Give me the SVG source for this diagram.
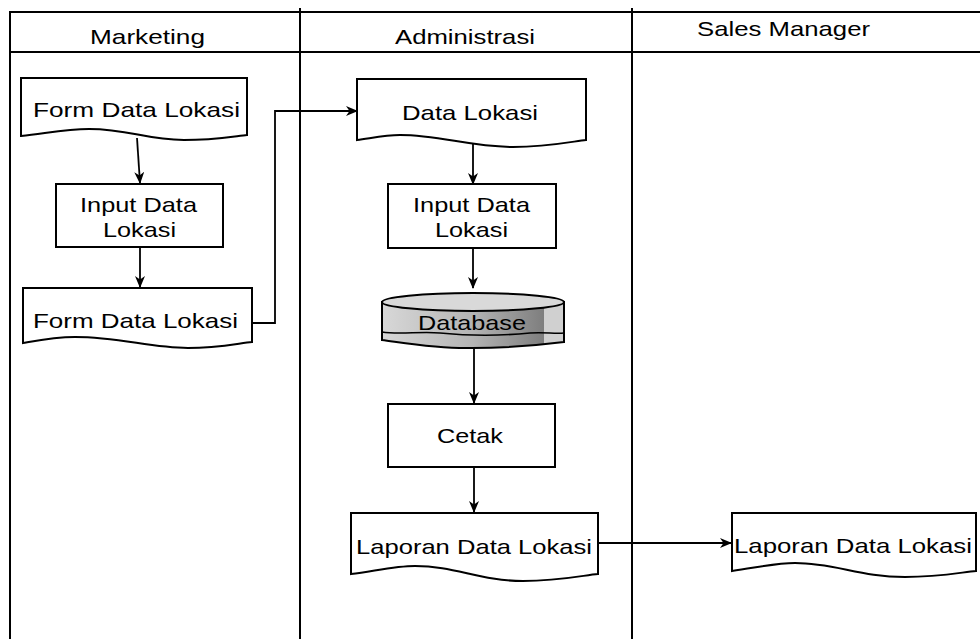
<svg xmlns="http://www.w3.org/2000/svg" width="980" height="639" viewBox="0 0 980 639">
<style>
.lane{stroke:#000;stroke-width:2;fill:none}
.shape{fill:#fff;stroke:#000;stroke-width:2}
.conn{fill:none;stroke:#000;stroke-width:1.8}
.t{font-family:"Liberation Sans",Arial,sans-serif;font-size:21px;fill:#000}
</style>
<defs>
<marker id="arr" markerUnits="userSpaceOnUse" viewBox="0 0 12 10" refX="11" refY="5" markerWidth="12" markerHeight="10" orient="auto">
<path d="M0,0 L12,5 L0,10 L3.5,5 Z" fill="#000"/>
</marker>
<linearGradient id="dbg" x1="0" y1="0" x2="1" y2="0">
<stop offset="0" stop-color="#d8d8d8"/>
<stop offset="0.5" stop-color="#b4b4b4"/>
<stop offset="0.89" stop-color="#7e7e7e"/>
<stop offset="0.89" stop-color="#d0d0d0"/>
<stop offset="1" stop-color="#d0d0d0"/>
</linearGradient>
</defs>
<rect width="980" height="639" fill="#fff"/>
<g id="lanes">
<line class="lane" x1="10" y1="12" x2="980" y2="12"/>
<line class="lane" x1="10" y1="52" x2="980" y2="52"/>
<line class="lane" x1="10" y1="11" x2="10" y2="639"/>
<line class="lane" x1="300" y1="8" x2="300" y2="639"/>
<line class="lane" x1="632" y1="8" x2="632" y2="639"/>
<text class="t" x="90" y="44" textLength="115" lengthAdjust="spacingAndGlyphs">Marketing</text>
<text class="t" x="395" y="44" textLength="140" lengthAdjust="spacingAndGlyphs">Administrasi</text>
<text class="t" x="697" y="36" textLength="173" lengthAdjust="spacingAndGlyphs">Sales Manager</text>
</g>
<g id="connectors">
<line class="conn" x1="137" y1="138" x2="140" y2="183" marker-end="url(#arr)"/>
<line class="conn" x1="140" y1="247" x2="140" y2="287" marker-end="url(#arr)"/>
<polyline class="conn" points="252,323 275,323 275,111 357,111" marker-end="url(#arr)"/>
<line class="conn" x1="473" y1="144" x2="473" y2="184" marker-end="url(#arr)"/>
<line class="conn" x1="473" y1="248" x2="473" y2="288" marker-end="url(#arr)"/>
<line class="conn" x1="474" y1="348" x2="474" y2="403" marker-end="url(#arr)"/>
<line class="conn" x1="474" y1="467" x2="474" y2="512" marker-end="url(#arr)"/>
<line class="conn" x1="598" y1="543" x2="731" y2="543" marker-end="url(#arr)"/>
</g>
<g id="doc-form1">
<path class="shape" d="M21,78 H247 V135 C236,136 213,140 184,140 C145,140 130,129 89,129 C66,129 48,133 21,136 Z"/>
<text class="t" x="33" y="117" textLength="207" lengthAdjust="spacingAndGlyphs">Form Data Lokasi</text>
</g>
<g id="proc-input1">
<rect class="shape" x="56" y="184" width="167" height="63"/>
<text class="t" x="80" y="212" textLength="117" lengthAdjust="spacingAndGlyphs">Input Data</text>
<text class="t" x="103" y="237" textLength="73" lengthAdjust="spacingAndGlyphs">Lokasi</text>
</g>
<g id="doc-form2">
<path class="shape" d="M23,288 H252 V342 C240,343 218,348 188,348 C150,348 120,337 75,337 C55,337 40,340 23,343 Z"/>
<text class="t" x="33" y="328" textLength="205" lengthAdjust="spacingAndGlyphs">Form Data Lokasi</text>
</g>
<g id="doc-data">
<path class="shape" d="M357,79 H586 V140 C575,141 548,147 513,147 C470,147 440,135 400,135 C385,135 372,138 357,140 Z"/>
<text class="t" x="402" y="120" textLength="136" lengthAdjust="spacingAndGlyphs">Data Lokasi</text>
</g>
<g id="proc-input2">
<rect class="shape" x="388" y="184" width="168" height="64"/>
<text class="t" x="413" y="212" textLength="117" lengthAdjust="spacingAndGlyphs">Input Data</text>
<text class="t" x="435" y="237" textLength="73" lengthAdjust="spacingAndGlyphs">Lokasi</text>
</g>
<g id="db">
<path d="M382,302 V340 C405,343 440,349 472,348 C505,348 540,345 564,342 V302 Z" fill="url(#dbg)" stroke="#000" stroke-width="2"/>
<path d="M382,332 C400,335 420,331 440,333 C470,336 500,336 530,333 C545,332 555,334 564,333" fill="none" stroke="#000" stroke-width="1.6"/>
<ellipse cx="473" cy="302" rx="91" ry="9" fill="#d9d9d9" stroke="#000" stroke-width="2"/>
<text class="t" x="418" y="330" textLength="108" lengthAdjust="spacingAndGlyphs">Database</text>
</g>
<g id="proc-cetak">
<rect class="shape" x="388" y="404" width="167" height="63"/>
<text class="t" x="437" y="443" textLength="66" lengthAdjust="spacingAndGlyphs">Cetak</text>
</g>
<g id="doc-laporan1">
<path class="shape" d="M351,513 H598 V574 C585,575 560,581 523,581 C480,581 455,566 415,566 C395,566 375,571 351,574 Z"/>
<text class="t" x="356" y="554" textLength="236" lengthAdjust="spacingAndGlyphs">Laporan Data Lokasi</text>
</g>
<g id="doc-laporan2">
<path class="shape" d="M732,513 H976 V571 C963,572 940,577 905,577 C860,577 835,563 795,563 C775,563 755,568 732,571 Z"/>
<text class="t" x="734" y="553" textLength="238" lengthAdjust="spacingAndGlyphs">Laporan Data Lokasi</text>
</g>
</svg>
